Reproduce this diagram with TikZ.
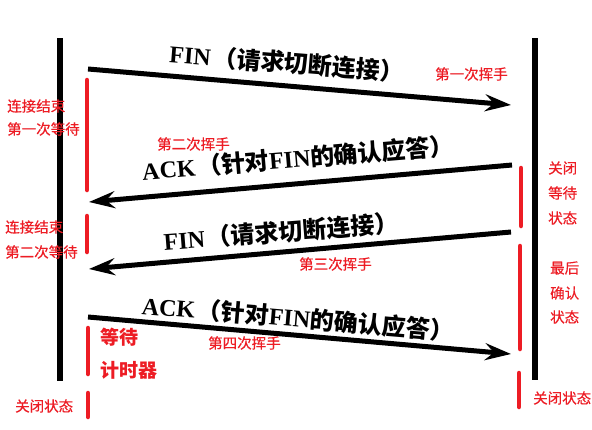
\documentclass[tikz,border=0pt]{standalone}
\usepackage{fontspec}
\setmainfont{Liberation Serif}
\newfontfamily\cjk{Noto Sans CJK SC}
\newfontfamily\cjkr[FakeBold=0.4]{Noto Sans CJK SC}
\usetikzlibrary{arrows.meta}
\definecolor{myred}{HTML}{ED1C24}
\tikzset{
  life/.style={line width=5.5pt},
  msg/.style={line width=5pt,-{Stealth[length=26pt,width=17pt,inset=9pt]}},
  redbar/.style={myred,line width=4.5pt,line cap=round},
  msgtext/.style={inner sep=0pt,font=\fontsize{24}{24}\selectfont},
  redlbl/.style={inner sep=0pt,anchor=west,text=myred,font=\cjkr\fontsize{14.5}{15}\selectfont},
  biglbl/.style={inner sep=0pt,anchor=west,text=myred,font=\cjk\bfseries\fontsize{19}{20}\selectfont},
}
\newcommand{\fintext}{{\bfseries FIN}\hspace{2pt}{\cjk\bfseries （请求切断连接）}}
\newcommand{\acktext}{{\bfseries ACK}\hspace{2pt}{\cjk\bfseries （针对}{\bfseries FIN}{\cjk\bfseries 的确认应答）}}
\begin{document}
\begin{tikzpicture}[x=1pt,y=-1pt]
\useasboundingbox (0,0) rectangle (592,429);
\fill[white] (0,0) rectangle (592,429);
% lifelines
\coordinate (L1) at (60,38); \coordinate (L2) at (60,381);
\coordinate (R1) at (535,38); \coordinate (R2) at (535,380);
\draw[life] (L1) -- (L2);
\draw[life] (R1) -- (R2);
% messages
\coordinate (a1s) at (88,69);  \coordinate (a1e) at (511,105);
\coordinate (a2s) at (512,165); \coordinate (a2e) at (89,202);
\coordinate (a3s) at (511,232); \coordinate (a3e) at (89,269);
\coordinate (a4s) at (88,317); \coordinate (a4e) at (511,354);
\draw[msg] (a1s) -- (a1e);
\draw[msg] (a2s) -- (a2e);
\draw[msg] (a3s) -- (a3e);
\draw[msg] (a4s) -- (a4e);
\node[msgtext,rotate=-4.5] (t1) at (287,63) {\fintext};
\node[msgtext,rotate=4.8] (t2) at (298,158) {\acktext};
\node[msgtext,rotate=4.5] (t3) at (281,232) {\fintext};
\node[msgtext,rotate=-4.8] (t4) at (298,318) {\acktext};
% red bars
\coordinate (b1a) at (87,80);  \coordinate (b1b) at (87,190);
\coordinate (b2a) at (87,216); \coordinate (b2b) at (87,252);
\coordinate (b3a) at (88,328); \coordinate (b3b) at (88,374);
\coordinate (b4a) at (88,393); \coordinate (b4b) at (88,417);
\coordinate (b5a) at (521,168); \coordinate (b5b) at (521,226);
\coordinate (b6a) at (520,246); \coordinate (b6b) at (520,349);
\coordinate (b7a) at (519,373); \coordinate (b7b) at (519,407);
\draw[redbar] (b1a) -- (b1b);
\draw[redbar] (b2a) -- (b2b);
\draw[redbar] (b3a) -- (b3b);
\draw[redbar] (b4a) -- (b4b);
\draw[redbar] (b5a) -- (b5b);
\draw[redbar] (b6a) -- (b6b);
\draw[redbar] (b7a) -- (b7b);
% red labels
\node[redlbl] (l1) at (7,106) {连接结束};
\node[redlbl] (l2) at (7,129) {第一次等待};
\node[redlbl] (h2) at (157,144) {第二次挥手};
\node[redlbl] (h1) at (435,74) {第一次挥手};
\node[redlbl] (r1) at (548,168) {关闭};
\node[redlbl] (r2) at (548,193) {等待};
\node[redlbl] (r3) at (548,218) {状态};
\node[redlbl] (l3) at (5,227) {连接结束};
\node[redlbl] (l4) at (5,252) {第二次等待};
\node[redlbl] (h3) at (299,264) {第三次挥手};
\node[redlbl] (r4) at (550,268) {最后};
\node[redlbl] (r5) at (550,293) {确认};
\node[redlbl] (r6) at (550,317) {状态};
\node[biglbl] (w1) at (100,337) {等待};
\node[biglbl] (w2) at (100,370) {计时器};
\node[redlbl] (h4) at (208,343) {第四次挥手};
\node[redlbl] (c1) at (15,406) {关闭状态};
\node[redlbl] (c2) at (533,398) {关闭状态};
\end{tikzpicture}
\end{document}
